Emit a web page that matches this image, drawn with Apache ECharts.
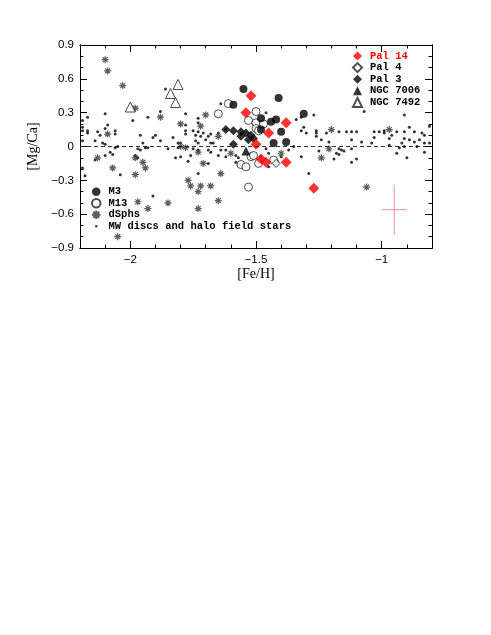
<!DOCTYPE html>
<html><head><meta charset="utf-8">
<script src="https://cdn.jsdelivr.net/npm/echarts@6/dist/echarts.min.js"></script>
<style>html,body{margin:0;padding:0;background:#fff}#c{width:491px;height:635px}</style>
</head><body><div id="c"></div>
<script>
// ---- tick labels ----
const xTickLabels = [-2, -1.5, -1];
const yTickLabels = [-0.9, -0.6, -0.3, 0, 0.3, 0.6, 0.9];
const xMinorTicks = [-2.2,-2.1,-2.0,-1.9,-1.8,-1.7,-1.6,-1.5,-1.4,-1.3,-1.2,-1.1,-1.0,-0.9,-0.8];
const yMinorTicks = [-0.9,-0.8,-0.7,-0.6,-0.5,-0.4,-0.3,-0.2,-0.1,0,0.1,0.2,0.3,0.4,0.5,0.6,0.7,0.8,0.9];

// ---- series values [Fe/H, Mg/Ca] ----
const pal14 = [[-1.52,0.45],[-1.54,0.30],[-1.38,0.21],[-1.45,0.12],[-1.50,0.02],[-1.48,-0.11],[-1.46,-0.14],[-1.38,-0.14],[-1.27,-0.37]];
const pal4 = [[-1.42,-0.15]];
const pal3 = [[-1.62,0.15],[-1.59,0.14],[-1.56,0.13],[-1.54,0.12],[-1.52,0.10],[-1.51,0.07],[-1.53,0.06],[-1.59,0.02],[-1.56,0.09]];
const ngc7006 = [[-1.54,-0.04]];
const ngc7492 = [[-1.81,0.55],[-1.84,0.47],[-1.82,0.39],[-2.00,0.35]];
const m3 = [[-1.55,0.51],[-1.41,0.43],[-1.59,0.37],[-1.31,0.29],[-1.48,0.25],[-1.42,0.24],[-1.44,0.22],[-1.40,0.13],[-1.48,0.15],[-1.43,0.03],[-1.38,0.04]];
const m13 = [[-1.61,0.38],[-1.65,0.29],[-1.50,0.31],[-1.53,0.23],[-1.50,0.21],[-1.47,0.20],[-1.50,0.16],[-1.49,0.14],[-1.56,-0.16],[-1.54,-0.18],[-1.49,-0.15],[-1.43,-0.12],[-1.52,-0.09],[-1.51,-0.08],[-1.53,-0.36]];
const dsphs = [[-2.10,0.77],[-2.09,0.67],[-2.03,0.54],[-1.98,0.34],[-1.88,0.26],[-1.80,0.20],[-2.09,0.11],[-2.13,-0.10],[-1.98,-0.10],[-2.07,-0.19],[-1.95,-0.14],[-1.94,-0.19],[-1.98,-0.25],[-1.77,-0.30],[-1.76,-0.35],[-1.72,-0.35],[-1.73,-0.40],[-1.68,-0.35],[-1.70,0.28],[-1.72,0.18],[-1.80,0.00],[-1.78,-0.01],[-1.73,-0.05],[-1.71,-0.15],[-1.65,0.09],[-1.64,-0.24],[-1.65,-0.48],[-1.73,-0.55],[-1.97,-0.49],[-1.93,-0.55],[-1.85,-0.50],[-2.05,-0.80],[-1.60,-0.06],[-1.20,0.15],[-1.21,-0.02],[-1.24,-0.10],[-0.97,0.15],[-1.06,-0.36],[-1.40,-0.06],[-1.42,-0.14]];
const mwField = [[-2.19,0.23],[-2.19,0.17],[-2.17,0.26],[-2.19,0.14],[-2.19,-0.19],[-2.18,-0.26],[-1.86,0.51],[-1.88,0.31],[-1.93,0.26],[-2.10,0.29],[-1.99,0.23],[-2.09,0.19],[-2.17,0.14],[-2.17,0.12],[-2.13,0.13],[-2.10,0.16],[-2.06,0.14],[-2.06,0.11],[-2.12,0.10],[-1.96,0.10],[-1.90,0.10],[-1.91,0.08],[-2.19,0.05],[-2.14,0.05],[-2.11,0.03],[-2.10,0.02],[-2.05,0.00],[-1.95,0.03],[-1.94,-0.01],[-1.88,0.05],[-1.83,0.08],[-1.78,0.29],[-1.78,0.19],[-1.78,0.14],[-1.78,0.11],[-1.75,0.14],[-1.74,0.10],[-1.74,0.05],[-1.81,0.03],[-1.80,0.03],[-1.73,0.25],
[-2.14,-0.12],[-2.10,-0.08],[-2.08,-0.05],[-2.07,-0.07],[-2.06,-0.01],[-2.04,-0.25],[-1.97,-0.02],[-1.96,-0.03],[-1.98,-0.08],[-1.97,-0.10],[-1.93,-0.01],[-1.85,-0.02],[-1.91,-0.44],[-1.82,-0.10],[-1.80,-0.09],[-1.77,-0.13],[-1.76,-0.08],[-1.75,-0.02],[-1.81,-0.01],
[-1.64,0.38],[-1.73,0.21],[-1.73,0.13],[-1.71,0.12],[-1.68,0.11],[-1.65,0.12],[-1.72,0.09],[-1.70,0.06],[-1.67,0.03],[-1.73,0.03],[-1.62,0.15],[-1.46,0.30],[-1.34,0.24],[-1.32,0.14],[-1.30,0.12],[-1.27,0.28],[-1.32,0.26],[-1.31,0.17],[-1.69,0.09],[-1.68,0.03],
[-1.73,-0.03],[-1.69,-0.03],[-1.68,-0.05],[-1.65,-0.08],[-1.62,-0.03],[-1.58,-0.08],[-1.57,-0.10],[-1.69,-0.15],[-1.73,-0.24],[-1.45,-0.06],[-1.46,-0.02],[-1.48,-0.09],[-1.32,-0.09],[-1.35,0.00],[-1.57,-0.16],[-1.64,-0.03],[-1.62,-0.09],[-1.58,-0.14],[-1.40,-0.09],[-1.37,-0.03],
[-1.07,0.31],[-0.91,0.28],[-1.26,0.14],[-1.26,0.12],[-1.26,0.09],[-1.24,0.06],[-1.21,0.04],[-1.22,0.12],[-1.17,0.13],[-1.14,0.13],[-1.12,0.13],[-1.10,0.13],[-1.12,0.06],[-1.08,0.04],[-1.03,0.13],[-1.01,0.13],[-0.99,0.14],[-0.99,0.12],[-0.96,0.10],[-0.94,0.13],[-0.91,0.13],[-0.89,0.17],[-0.87,0.13],[-0.84,0.12],[-0.83,0.10],[-0.81,0.18],[-0.91,0.07],[-0.89,0.06],[-0.87,0.04],[-0.85,0.06],[-0.83,0.03],[-0.97,0.07],[-1.03,0.08],[-1.04,0.03],[-0.92,0.03],[-0.81,0.03],
[-1.25,-0.04],[-1.19,-0.11],[-1.18,-0.06],[-1.17,-0.02],[-1.17,-0.07],[-1.16,-0.03],[-1.15,-0.04],[-1.12,-0.02],[-1.12,-0.14],[-1.10,-0.11],[-0.97,0.01],[-0.94,-0.06],[-0.93,-0.01],[-0.91,0.00],[-0.90,-0.10],[-0.86,0.00],[-0.83,-0.05],[-1.29,-0.24],[-1.45,-0.18]];

// ---- typical error cross ----
const errCenter = [-0.95, -0.56];
const errHalf = [0.05, 0.22];

const fmt = v => (v === 0 ? '0' : String(v).replace('-', '\u2212'));
const monoFont = {fontFamily: 'Liberation Mono', fontWeight: 'bold', fontSize: 10.5, color: '#000', lineHeight: 8, padding: [0, 0, 0, 3]};
const starPath = 'path://M0,5L10,5M5,0L5,10M1.5,1.5L8.5,8.5M8.5,1.5L1.5,8.5';
const dotIcon = 'path://M0,0M10,10M3.6,5a1.4,1.4 0 1,0 2.8,0a1.4,1.4 0 1,0 -2.8,0';

function xAx(pos, major, labels, name) {
  return {
    type: 'value', position: pos, min: -2.2, max: -0.8,
    name: name || '', nameLocation: 'middle', nameGap: 19,
    nameTextStyle: {fontFamily: 'Liberation Serif', fontSize: 14, color: '#000'},
    axisLine: {show: true, onZero: false, lineStyle: {color: '#000', width: 1}},
    axisTick: {show: true, inside: true, length: major ? 7 : 3.5, customValues: major ? xTickLabels : xMinorTicks, lineStyle: {color: '#000', width: 1}},
    axisLabel: {show: labels, customValues: xTickLabels, formatter: fmt, color: '#000', fontFamily: 'Liberation Sans', fontSize: 11.5, margin: 6},
    splitLine: {show: false}
  };
}
function yAx(pos, major, labels, name) {
  return {
    type: 'value', position: pos, min: -0.9, max: 0.9,
    name: name || '', nameLocation: 'middle', nameGap: 38,
    nameTextStyle: {fontFamily: 'Liberation Serif', fontSize: 14, color: '#000'},
    axisLine: {show: true, onZero: false, lineStyle: {color: '#000', width: 1}},
    axisTick: {show: true, inside: true, length: major ? 7 : 3.5, customValues: major ? yTickLabels : yMinorTicks, lineStyle: {color: '#000', width: 1}},
    axisLabel: {show: labels, customValues: yTickLabels, formatter: fmt, color: '#000', fontFamily: 'Liberation Sans', fontSize: 11.5, margin: 6},
    splitLine: {show: false}
  };
}

const openStyle = {color: '#fff', borderColor: '#222', borderWidth: 1};
const chart = echarts.init(document.getElementById('c'), null, {renderer: 'canvas'});
chart.setOption({
  animation: false,
  backgroundColor: '#fff',
  grid: {left: 80, top: 45, width: 352, height: 203},
  xAxis: [xAx('bottom', true, true, '[Fe/H]'), xAx('bottom', false, false), xAx('top', true, false), xAx('top', false, false)],
  yAxis: [yAx('left', true, true, '[Mg/Ca]'), yAx('left', false, false), yAx('right', true, false), yAx('right', false, false)],
  legend: [
    {
      orient: 'vertical', left: 352, top: 50.5, itemWidth: 9, itemHeight: 9, itemGap: 0.6, padding: 0,
      selectedMode: false, textStyle: monoFont,
      data: [{name: 'Pal 14', textStyle: {color: '#ff0000'}}, 'Pal 4', 'Pal 3', 'NGC 7006', 'NGC 7492']
    },
    {
      orient: 'vertical', left: 91, top: 186.3, itemWidth: 8.5, itemHeight: 8.5, itemGap: 0.5, padding: 0,
      selectedMode: false, textStyle: monoFont,
      data: ['M3', 'M13', 'dSphs', {name: 'MW discs and halo field stars', icon: dotIcon}]
    }
  ],
  series: [
    {
      name: 'MW discs and halo field stars', type: 'scatter', data: mwField, symbol: 'circle', symbolSize: 3,
      itemStyle: {color: '#000'},
      markLine: {silent: true, symbol: ['none', 'none'], label: {show: false},
        lineStyle: {color: '#000', type: [4, 3], width: 0.8}, data: [{yAxis: 0}]}
    },
    {
      name: 'dSphs', type: 'scatter', data: dsphs, symbol: starPath, symbolSize: 7,
      itemStyle: {color: 'rgba(0,0,0,0)', borderColor: '#333', borderWidth: 1.2}
    },
    {name: 'M13', type: 'scatter', data: m13, symbol: 'circle', symbolSize: 8, itemStyle: openStyle},
    {name: 'NGC 7492', type: 'scatter', data: ngc7492, symbol: 'triangle', symbolSize: 10, itemStyle: openStyle},
    {name: 'M3', type: 'scatter', data: m3, symbol: 'circle', symbolSize: 8, itemStyle: {color: '#000'}},
    {name: 'Pal 3', type: 'scatter', data: pal3, symbol: 'diamond', symbolSize: 9, itemStyle: {color: '#000'}},
    {name: 'NGC 7006', type: 'scatter', data: ngc7006, symbol: 'triangle', symbolSize: 9, itemStyle: {color: '#000'}},
    {name: 'Pal 4', type: 'scatter', data: pal4, symbol: 'diamond', symbolSize: 8, itemStyle: openStyle},
    {name: 'Pal 14', type: 'scatter', data: pal14, symbol: 'diamond', symbolSize: 11, itemStyle: {color: '#ff0000'}},
    {
      name: 'err-x', type: 'line', symbol: 'none', lineStyle: {color: '#f4a3a3', width: 1.2}, silent: true,
      data: [[errCenter[0] - errHalf[0], errCenter[1]], [errCenter[0] + errHalf[0], errCenter[1]]]
    },
    {
      name: 'err-y', type: 'line', symbol: 'none', lineStyle: {color: '#f4a3a3', width: 1.2}, silent: true,
      data: [[errCenter[0], errCenter[1] - errHalf[1]], [errCenter[0], errCenter[1] + errHalf[1]]]
    }
  ]
});
</script>
</body></html>
